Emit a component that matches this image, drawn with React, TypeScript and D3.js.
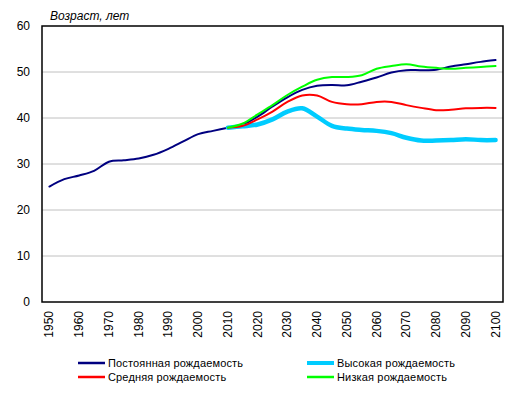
import React from "react";
import * as d3 from "d3";

const years = d3.range(1950, 2101, 5);
const projYears = d3.range(2010, 2101, 5);
const tickYears = d3.range(1950, 2101, 10);
const yTicks = [0, 10, 20, 30, 40, 50, 60];

const constantFert = [
  25.1, 26.7, 27.5, 28.5, 30.5, 30.8, 31.2, 32.0, 33.3, 34.9, 36.5, 37.2, 37.9,
  38.6, 40.3, 42.5, 44.5, 46.1, 47.0, 47.2, 47.1, 47.9, 48.8, 49.9, 50.4, 50.4,
  50.5, 51.2, 51.7, 52.2, 52.6,
];
const highFert = [
  37.9, 38.2, 38.6, 39.7, 41.4, 42.1, 40.3, 38.3, 37.7, 37.4, 37.2, 36.7, 35.7,
  35.1, 35.1, 35.2, 35.4, 35.2, 35.2,
];
const mediumFert = [
  37.9, 38.3, 39.7, 41.4, 43.5, 44.9, 44.9, 43.5, 43.0, 43.0, 43.5, 43.5, 42.8,
  42.2, 41.7, 41.8, 42.1, 42.2, 42.2,
];
const lowFert = [
  37.9, 38.8, 40.8, 42.8, 45.0, 46.8, 48.3, 48.9, 48.9, 49.3, 50.7, 51.3, 51.7,
  51.2, 50.9, 50.7, 50.9, 51.1, 51.3,
];

const seriesNames = [
  "Постоянная рождаемость",
  "Высокая рождаемость",
  "Средняя рождаемость",
  "Низкая рождаемость",
];

export default function App() {
  const W = 518, H = 393;
  const L = 42, R = 503, T = 26, B = 302;
  const x = d3.scaleLinear().domain([1947.5, 2102.5]).range([L, R]);
  const y = d3.scaleLinear().domain([0, 60]).range([B, T]);
  const line = d3
    .line<[number, number]>()
    .x((d) => x(d[0]))
    .y((d) => y(d[1]))
    .curve(d3.curveCatmullRom.alpha(0.5));

  const series = [
    { name: seriesNames[0], yrs: years, vals: constantFert, color: "#000080", w: 2 },
    { name: seriesNames[1], yrs: projYears, vals: highFert, color: "#00ccff", w: 4.5 },
    { name: seriesNames[2], yrs: projYears, vals: mediumFert, color: "#ff0000", w: 2 },
    { name: seriesNames[3], yrs: projYears, vals: lowFert, color: "#00ff00", w: 2 },
  ];

  const legendPos = [
    { x: 78, y: 363 },
    { x: 307, y: 363 },
    { x: 78, y: 377 },
    { x: 307, y: 377 },
  ];

  const font = "'Liberation Sans', Arial, sans-serif";

  return (
    <svg
      width={W}
      height={H}
      style={{ position: "absolute", left: 0, top: 0, background: "#fff" }}
      fontFamily={font}
    >
      <rect x={0} y={0} width={W} height={H} fill="#fff" />
      {yTicks.slice(1, -1).map((t) => (
        <line key={t} x1={L} x2={R} y1={y(t)} y2={y(t)} stroke="#c0c0c0" strokeWidth={1} />
      ))}
      {yTicks.map((t) => (
        <text key={t} x={30} y={y(t) + 4} textAnchor="end" fontSize={12} fill="#000">
          {t}
        </text>
      ))}
      {tickYears.map((t) => (
        <text
          key={t}
          transform={`translate(${x(t) + 4},${311}) rotate(-90)`}
          textAnchor="end"
          fontSize={12}
          fill="#000"
        >
          {t}
        </text>
      ))}
      <text x={50} y={20} fontSize={12} fontStyle="italic" fill="#000">
        Возраст, лет
      </text>
      {series.map((s) => (
        <path
          key={s.name}
          d={line(s.yrs.map((yr, i) => [yr, s.vals[i]] as [number, number])) || ""}
          fill="none"
          stroke={s.color}
          strokeWidth={s.w}
          strokeLinejoin="round"
          strokeLinecap="round"
        />
      ))}
      <rect x={L} y={T} width={R - L} height={B - T} fill="none" stroke="#000" strokeWidth={1.5} />
      {series.map((s, i) => (
        <g key={s.name}>
          <line
            x1={legendPos[i].x}
            x2={legendPos[i].x + 27}
            y1={legendPos[i].y}
            y2={legendPos[i].y}
            stroke={s.color}
            strokeWidth={s.w === 2 ? 2.5 : 4}
          />
          <text
            x={legendPos[i].x + 30}
            y={legendPos[i].y + 4}
            fontSize={11}
            letterSpacing={0.15}
            fill="#000"
          >
            {s.name}
          </text>
        </g>
      ))}
    </svg>
  );
}
